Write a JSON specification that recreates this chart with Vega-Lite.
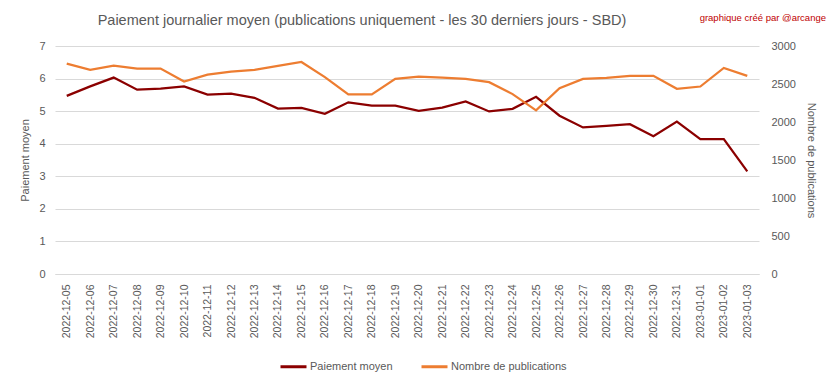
{
  "$schema": "https://vega.github.io/schema/vega-lite/v6.json",
  "width": 704,
  "height": 228,
  "autosize": {"type": "none"},
  "padding": {"left": 55, "top": 46, "right": 74, "bottom": 105},
  "background": "white",
  "config": {
    "font": "Liberation Sans",
    "view": {"stroke": null},
    "axis": {"labelColor": "#595959", "titleColor": "#595959", "titleFontWeight": "normal", "labelFontSize": 11, "titleFontSize": 11}
  },
  "title": {
    "text": "Paiement journalier moyen (publications uniquement - les 30 derniers jours - SBD)",
    "fontSize": 14.5,
    "fontWeight": "normal",
    "color": "#595959",
    "anchor": "middle",
    "dx": -45,
    "offset": -15
  },
  "data": {
    "values": [
      {"date": "2022-12-05", "paiement": 5.47, "publications": 2769},
      {"date": "2022-12-06", "paiement": 5.76, "publications": 2686},
      {"date": "2022-12-07", "paiement": 6.03, "publications": 2742},
      {"date": "2022-12-08", "paiement": 5.66, "publications": 2703},
      {"date": "2022-12-09", "paiement": 5.69, "publications": 2703},
      {"date": "2022-12-10", "paiement": 5.76, "publications": 2533},
      {"date": "2022-12-11", "paiement": 5.51, "publications": 2624},
      {"date": "2022-12-12", "paiement": 5.54, "publications": 2664},
      {"date": "2022-12-13", "paiement": 5.41, "publications": 2686},
      {"date": "2022-12-14", "paiement": 5.08, "publications": 2738},
      {"date": "2022-12-15", "paiement": 5.10, "publications": 2790},
      {"date": "2022-12-16", "paiement": 4.92, "publications": 2590},
      {"date": "2022-12-17", "paiement": 5.27, "publications": 2362},
      {"date": "2022-12-18", "paiement": 5.17, "publications": 2362},
      {"date": "2022-12-19", "paiement": 5.17, "publications": 2568},
      {"date": "2022-12-20", "paiement": 5.01, "publications": 2598},
      {"date": "2022-12-21", "paiement": 5.11, "publications": 2585},
      {"date": "2022-12-22", "paiement": 5.30, "publications": 2568},
      {"date": "2022-12-23", "paiement": 4.99, "publications": 2524},
      {"date": "2022-12-24", "paiement": 5.07, "publications": 2367},
      {"date": "2022-12-25", "paiement": 5.44, "publications": 2153},
      {"date": "2022-12-26", "paiement": 4.86, "publications": 2445},
      {"date": "2022-12-27", "paiement": 4.50, "publications": 2568},
      {"date": "2022-12-28", "paiement": 4.55, "publications": 2581},
      {"date": "2022-12-29", "paiement": 4.60, "publications": 2607},
      {"date": "2022-12-30", "paiement": 4.23, "publications": 2607},
      {"date": "2022-12-31", "paiement": 4.68, "publications": 2437},
      {"date": "2023-01-01", "paiement": 4.14, "publications": 2467},
      {"date": "2023-01-02", "paiement": 4.14, "publications": 2712},
      {"date": "2023-01-03", "paiement": 3.15, "publications": 2607}
    ]
  },
  "encoding": {
    "x": {
      "field": "date",
      "type": "ordinal",
      "scale": {"type": "point", "padding": 0.5},
      "axis": {"title": null, "labelAngle": 270, "labelFontSize": 10.5, "labelPadding": 10, "ticks": false, "domain": true, "domainColor": "#d9d9d9", "grid": false}
    }
  },
  "layer": [
    {
      "mark": {"type": "line", "strokeWidth": 2.25},
      "encoding": {
        "y": {
          "field": "paiement",
          "type": "quantitative",
          "scale": {"domain": [0, 7]},
          "axis": {"title": "Paiement moyen", "orient": "left", "values": [0, 1, 2, 3, 4, 5, 6, 7], "grid": true, "gridColor": "#d9d9d9", "domain": false, "ticks": false, "labelPadding": 10, "titlePadding": 8}
        },
        "color": {
          "datum": "Paiement moyen",
          "scale": {"domain": ["Paiement moyen", "Nombre de publications"], "range": ["#8B0000", "#ED7D31"]},
          "legend": {"title": null, "orient": "none", "legendX": 224, "legendY": 306, "direction": "horizontal", "symbolType": "stroke", "symbolStrokeWidth": 3, "symbolSize": 676, "labelFontSize": 11, "labelColor": "#595959", "labelOffset": 2, "columnPadding": 22}
        }
      }
    },
    {
      "mark": {"type": "line", "strokeWidth": 2.25},
      "encoding": {
        "y": {
          "field": "publications",
          "type": "quantitative",
          "scale": {"domain": [0, 3000]},
          "axis": {"title": "Nombre de publications", "orient": "right", "format": "d", "values": [0, 500, 1000, 1500, 2000, 2500, 3000], "grid": false, "domain": false, "ticks": false, "labelPadding": 12, "titlePadding": 10}
        },
        "color": {"datum": "Nombre de publications"}
      }
    },
    {
      "data": {"values": [{"t": "graphique créé par @arcange"}]},
      "mark": {"type": "text", "align": "right", "baseline": "alphabetic", "fontSize": 9.5, "font": "Liberation Sans", "color": "#C00000"},
      "encoding": {
        "text": {"field": "t"},
        "x": {"value": 771},
        "y": {"value": -25}
      }
    }
  ],
  "resolve": {"scale": {"y": "independent"}}
}
